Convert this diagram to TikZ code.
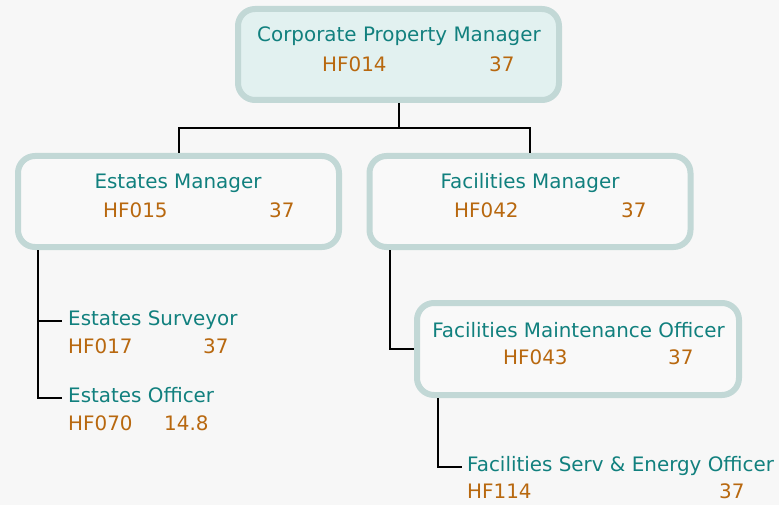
\documentclass[tikz,border=0pt]{standalone}
\usepackage{fontspec}
\setmainfont{DejaVu Sans}
\definecolor{bgc}{HTML}{F7F7F7}
\definecolor{boxline}{HTML}{C2D8D6}
\definecolor{topfill}{HTML}{E2F1F0}
\definecolor{boxfill}{HTML}{F9F9F9}
\definecolor{teal}{HTML}{11807E}
\definecolor{orng}{HTML}{B8680F}
\tikzset{
  box/.style={draw=boxline, line width=6pt, rounded corners=17pt, fill=boxfill,
    minimum width=321pt, minimum height=91pt, inner sep=0pt},
  ttl/.style={text=teal, font=\fontsize{19.9}{22}\selectfont, inner sep=0pt, anchor=base},
  leaf/.style={text=teal, font=\fontsize{19.9}{22}\selectfont, inner sep=0pt, anchor=base west,
    text height=0.73em, text depth=0pt},
  num/.style={text=orng, font=\fontsize{19.9}{22}\selectfont, inner sep=0pt, anchor=base west},
  conn/.style={draw=black, line width=2pt},
}
\begin{document}
\begin{tikzpicture}[x=1pt,y=-1pt]
\fill[bgc] (0,0) rectangle (779,505);
\useasboundingbox (0,0) rectangle (779,505);

% boxes
\node[box, fill=topfill] (cpm) at (398.5,54.5) {};
\node[box] (em) at (178.5,201.5) {};
\node[box] (fm) at (530,201.5) {};
\node[box, minimum width=322pt, minimum height=92pt] (fmo) at (578,349) {};

% texts
\node[ttl] (cpmt) at (399,42) {Corporate Property Manager};
\node[num] (cpmc) at (322,72) {HF014};
\node[num] (cpmn) at (489,72) {37};

\node[ttl] (emt) at (178,189) {Estates Manager};
\node[num] (emc) at (103,218) {HF015};
\node[num] (emn) at (269,218) {37};

\node[ttl] (fmt) at (530,189) {Facilities Manager};
\node[num] (fmc) at (454,218) {HF042};
\node[num] (fmn) at (621,218) {37};

\node[ttl] (fmot) at (578.5,337) {Facilities Maintenance Officer};
\node[num] (fmoc) at (503,364) {HF043};
\node[num] (fmon) at (668,364) {37};

\node[leaf] (es) at (68,325) {Estates Surveyor};
\node[num] (esc) at (68,353) {HF017};
\node[num] (esn) at (203,353) {37};

\node[leaf] (eo) at (68,402) {Estates Officer};
\node[num] (eoc) at (68,430) {HF070};
\node[num] (eon) at (164,430) {14.8};

\node[leaf] (fse) at (467,471) {Facilities Serv \& Energy Officer};
\node[num] (fsec) at (467,498) {HF114};
\node[num] (fsen) at (719,498) {37};

% connectors
\draw[conn] (cpm.south) -- ++(0,25) -| (em.north);
\draw[conn] (cpm.south) ++(0,25) -| (fm.north);
\draw[conn, shorten >=6pt] (em.south west) ++(23,0) |- (es.west);
\draw[conn, shorten >=6pt] (em.south west) ++(23,0) |- (eo.west);
\draw[conn] (fm.south west) ++(23,0) |- (fmo.west);
\draw[conn, shorten >=5pt] (fmo.south west) ++(24,0) |- (fse.west);
\end{tikzpicture}
\end{document}
